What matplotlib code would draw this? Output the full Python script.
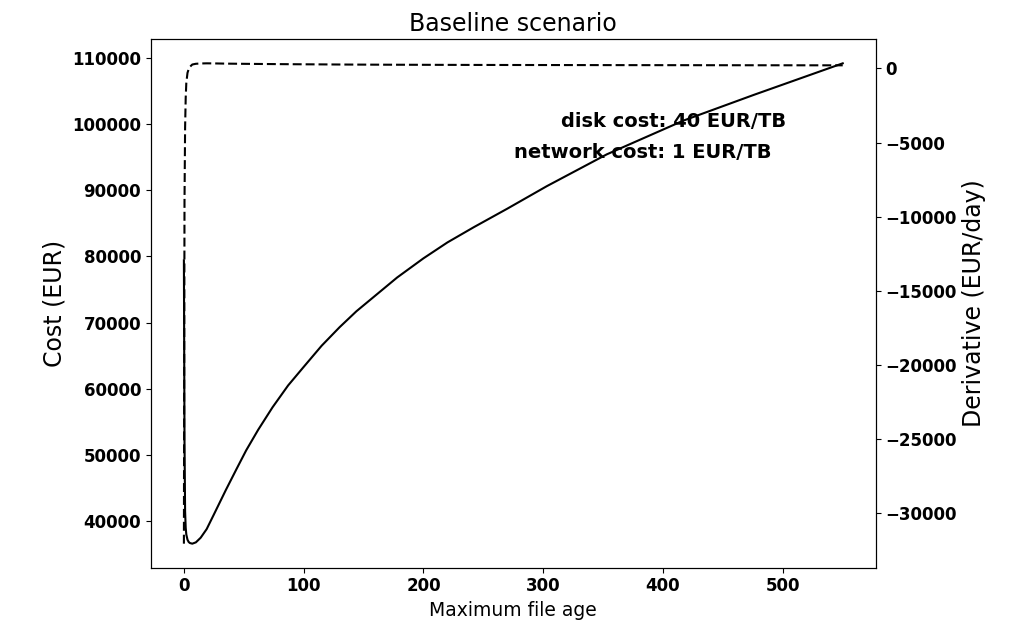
import numpy as np
import matplotlib.pyplot as plt

# maximum file age (days)
age = [0, 0.5, 1, 1.5, 2, 3, 4, 5, 7, 10, 14, 19, 25, 35, 44, 52, 62, 74, 87,
       100, 115, 130, 144, 158, 178, 200, 220, 242, 270, 303, 353, 417, 476,
       550]
# total cost (EUR)
cost = [79400, 52000, 41500, 39000, 38000, 37200, 36850, 36700, 36600, 36800,
        37500, 38800, 41000, 44700, 47900, 50700, 53800, 57200, 60500, 63300,
        66500, 69300, 71700, 73800, 76800, 79700, 82100, 84400, 87200, 90600,
        95400, 100500, 104400, 109150]
# derivative of the cost (EUR/day)
deriv = [-32050, -9000, -4000, -2000, -1000, -300, -50, 100, 260, 310, 330,
         340, 335, 320, 312, 305, 298, 290, 282, 275, 268, 260, 255, 250, 245,
         240, 236, 232, 228, 225, 220, 215, 210, 205]

fig = plt.figure(figsize=(10.2, 6.3), dpi=100)
ax = fig.add_axes([0.148, 0.0989, 0.7105, 0.8387])
ax.plot(age, cost, color="black", lw=1.5)
ax.set_xlabel("Maximum file age", fontsize=13.5)
ax.set_ylabel("Cost (EUR)", fontsize=17)
ax.set_title("Baseline scenario", fontsize=17)
for lbl in ax.get_xticklabels() + ax.get_yticklabels():
    lbl.set_fontsize(12)
    lbl.set_fontweight("bold")

ax2 = ax.twinx()
ax2.plot(age, deriv, color="black", lw=1.5, linestyle=(0, (4.3, 1.9)))
ax2.set_ylabel("Derivative (EUR/day)", fontsize=17)
for lbl in ax2.get_yticklabels():
    lbl.set_fontsize(12)
    lbl.set_fontweight("bold")

ax.text(0.5653, 0.8346, "disk cost: 40 EUR/TB", transform=ax.transAxes,
        fontsize=14, fontweight="bold", va="baseline")
ax.text(0.5013, 0.7748, "network cost: 1 EUR/TB", transform=ax.transAxes,
        fontsize=14, fontweight="bold", va="baseline")

fig.savefig("out.png", dpi=100)
